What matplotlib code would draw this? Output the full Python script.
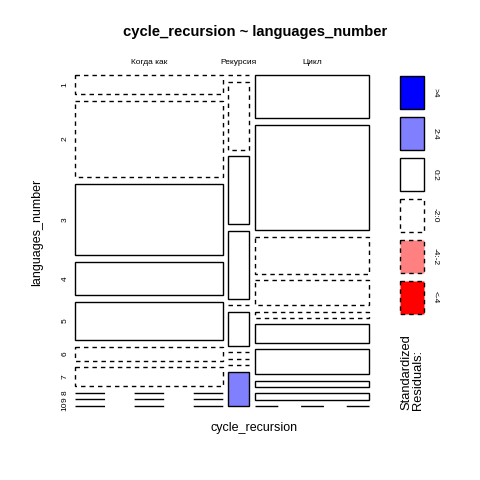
import numpy as np
import matplotlib
matplotlib.use('Agg')
import matplotlib.pyplot as plt
from matplotlib.patches import Rectangle
from matplotlib.transforms import blended_transform_factory

plt.rcParams['font.family'] = ['Liberation Sans', 'DejaVu Sans']
plt.rcParams['lines.scale_dashes'] = False

# categories
cycle_recursion = ['Когда как', 'Рекурсия', 'Цикл']
languages_number = ['1', '2', '3', '4', '5', '6', '7', '8', '9', '10']
# counts per column (rows = languages_number)
kogda_kak = [4, 16, 15, 7, 8, 3, 4, 0, 0, 0]
rekursiya = [0, 2, 2, 2, 0, 1, 0, 0, 0, 1]
tsikl = [7, 17, 6, 4, 1, 3, 4, 1, 1, 0]
legend_labels = ['>4', '2:4', '0:2', '-2:0', '-4:-2', '<-4']

tab = np.array([kogda_kak, rekursiya, tsikl], dtype=float).T
N = tab.sum()
row_tot = tab.sum(axis=1)
col_tot = tab.sum(axis=0)
expected = np.outer(row_tot, col_tot) / N
resid = (tab - expected) / np.sqrt(expected)

fills = ['#0000FF', '#8080FF', 'white', 'white', '#FF8080', '#FF0000']
dash = (0, (3.2, 2.9))


def shade(r):
    # index into legend order: >4, 2:4, 0:2, -2:0, -4:-2, <-4
    if r > 4:
        return 0
    if r > 2:
        return 1
    if r > 0:
        return 2
    if r > -2:
        return 3
    if r > -4:
        return 4
    return 5


fig = plt.figure(figsize=(4.8, 4.8), dpi=100)
ax_w_px, ax_h_px = 294, 331
ax = fig.add_axes([75/480, 1 - 406/480, ax_w_px/480, ax_h_px/480])
ax.set_xlim(0, 1)
ax.set_ylim(1, 0)
ax.axis('off')

nrow, ncol = tab.shape
gx = 5.7 / ax_w_px
gy = 6.5 / ax_h_px
widths = (1 - gx*(ncol - 1)) * col_tot / N
lefts = np.concatenate([[0], np.cumsum(widths + gx)[:-1]])

row_centers = None
for j in range(ncol):
    heights = (1 - gy*(nrow - 1)) * tab[:, j] / col_tot[j]
    tops = np.concatenate([[0], np.cumsum(heights + gy)[:-1]])
    if j == 0:
        row_centers = tops + heights/2
    for i in range(nrow):
        k = shade(resid[i, j])
        ls = '-' if k <= 2 else dash
        if tab[i, j] == 0:
            # empty cell: flat line
            w_pt = widths[j] * ax_w_px / 100 * 72
            if w_pt > 40:
                ls = (0, (w_pt/5, w_pt/5))
            ax.plot([lefts[j], lefts[j] + widths[j]], [tops[i], tops[i]],
                    color='black', lw=1.0, linestyle=ls, solid_capstyle='butt',
                    dash_capstyle='butt', clip_on=False)
        else:
            ax.add_patch(Rectangle((lefts[j], tops[i]), widths[j], heights[i],
                                   facecolor=fills[k], edgecolor='black',
                                   lw=1.0, linestyle=ls, clip_on=False))

# column labels on top
tr_x = blended_transform_factory(ax.transData, fig.transFigure)
for j, name in enumerate(cycle_recursion):
    ax.text(lefts[j] + widths[j]/2, 1 - 63/480, name, transform=tr_x,
            ha='center', va='center', fontsize=6.0)

# row labels on the left
tr_y = blended_transform_factory(fig.transFigure, ax.transData)
for i, name in enumerate(languages_number):
    ax.text(65/480, row_centers[i], name, transform=tr_y, rotation=90,
            ha='center', va='center', fontsize=6.0)

fig.text(255/480, 1 - 32/480, 'cycle_recursion ~ languages_number',
         ha='center', va='center', fontsize=10.6, fontweight='bold')
fig.text(254/480, 1 - 428/480, 'cycle_recursion', ha='center', va='center',
         fontsize=9.0)
fig.text(37/480, 1 - 232/480, 'languages_number', ha='center', va='center',
         rotation=90, fontsize=9.0)

# shading legend
lg = fig.add_axes([0, 0, 1, 1])
lg.set_xlim(0, 480)
lg.set_ylim(480, 0)
lg.axis('off')
for k, lab in enumerate(legend_labels):
    top = 76 + k*41
    lg.add_patch(Rectangle((400, top), 24, 33, facecolor=fills[k],
                           edgecolor='black', lw=1.0,
                           linestyle='-' if k <= 2 else dash))
    lg.text(435, top + 16.5, lab, rotation=270, ha='center', va='center',
            fontsize=6.0)
lg.text(412, 410, 'Standardized\nResiduals:', rotation=90, ha='center',
        va='bottom', multialignment='left', fontsize=9.3, linespacing=1.0)

fig.savefig('out.png', dpi=100)
